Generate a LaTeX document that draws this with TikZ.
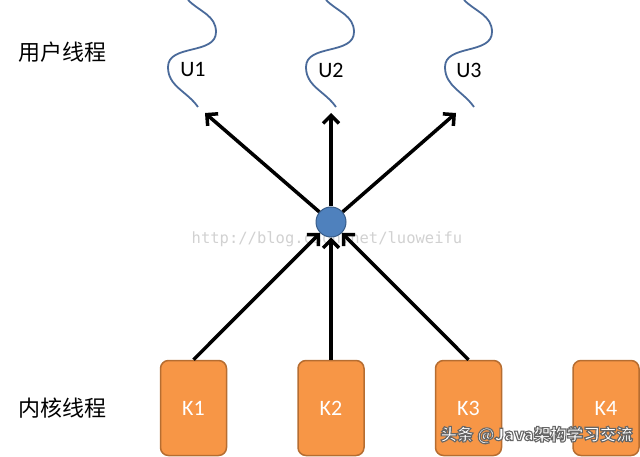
\documentclass[tikz,border=0pt]{standalone}
\usepackage{fontspec}
\setmainfont{Carlito}
\setmonofont{DejaVu Sans Mono}
\newfontfamily\cjk{Noto Sans CJK SC}
\usetikzlibrary{positioning, arrows.meta}

\definecolor{kfill}{HTML}{F79646}
\definecolor{kline}{HTML}{B66D31}
\definecolor{hubfill}{HTML}{4F81BD}
\definecolor{hubline}{HTML}{385D8A}
\definecolor{wave}{HTML}{4A6A9A}

% white letters with a grey edge
\newcommand\edgedtext[1]{\special{pdf:literal direct 2 Tr 1.1 w 0.4 G}#1\special{pdf:literal direct 0 Tr}}

\begin{document}
\begin{tikzpicture} [x=1pt, y=-1pt,
  kthread/.style = {draw=kline, line width=1.5pt, fill=kfill, rounded corners=8pt, minimum width=66pt, minimum height=95pt, text=white, font=\fontsize{22}{26}\selectfont},
  uthread/.style = {font=\fontsize{22}{26}\selectfont},
  side/.style = {font=\cjk\fontsize{22}{26}\selectfont},
  arr/.style = {line width=3.5pt, -{Straight Barb[length=8pt, width=16pt]}},
  thread/.style = {draw=wave, line width=1.8pt}]
\useasboundingbox (0,0) rectangle (640,457);
% watermark behind the arrows
\node[font=\ttfamily\fontsize{15.5}{18}\selectfont, text=black!18] (url) at (327,239) {http://blog.csdn.net/luoweifu};

\node[kthread] (k1) at (193.5,408) {K1};
\node[kthread, right = 70pt of k1] (k2) {K2};
\node[kthread, right = 70pt of k2] (k3) {K3};
\node[kthread, right = 70pt of k3] (k4) {K4};

\node[circle, draw=hubline, line width=1pt, fill=hubfill, minimum size=30pt, inner sep=0pt] (hub) at (331,222) {};

\node[uthread] (u1) at (193,70) {U1};
\node[uthread] (u2) at (331,70) {U2};
\node[uthread] (u3) at (469,70) {U3};

\coordinate (t1) at (205,113);
\coordinate (t2) at (331,113);
\coordinate (t3) at (456,113);

\node[side] (user) at (62,52) {用户线程};
\node[side] (kernel) at (62,408) {内核线程};

% user threads
\draw[thread] (188,0) to[out=-45,in=90] (216,32) to[out=-90,in=90] (168,67) to[out=-90,in=125] (198,107);
\draw[thread] (326,0) to[out=-45,in=90] (354,32) to[out=-90,in=90] (306,67) to[out=-90,in=125] (336,107);
\draw[thread] (464,0) to[out=-45,in=90] (492,32) to[out=-90,in=90] (445,67) to[out=-90,in=125] (474,107);

\draw[arr] (k1.north) -- (hub);
\draw[arr] (k2.north) -- (hub);
\draw[arr] (k3.north) -- (hub);
\draw[arr] (hub) -- (t1);
\draw[arr] (hub) -- (t2);
\draw[arr] (hub) -- (t3);

% watermark on top
\node[font=\cjk\bfseries\fontsize{16.5}{20}\selectfont, text=white, anchor=west] (mark) at (437,435) {\edgedtext{头条 @Java架构学习交流}};
\end{tikzpicture}
\end{document}
